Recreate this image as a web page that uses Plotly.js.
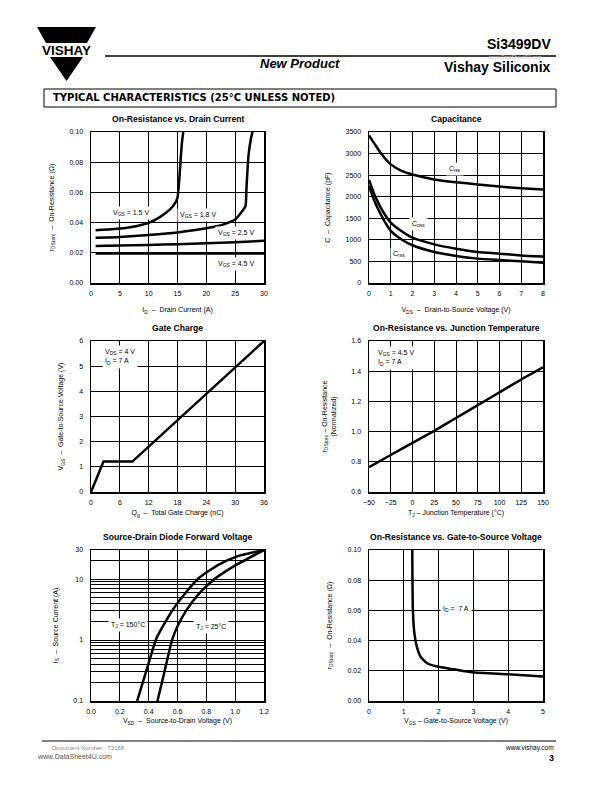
<!DOCTYPE html>
<html><head><meta charset="utf-8">
<script src="https://cdn.plot.ly/plotly-3.0.1.min.js"></script>
<style>html,body{margin:0;padding:0;background:#fff}#chart{width:612px;height:792px}</style>
</head><body><div id="chart"></div>
<script>
// ---------- DATA ----------
// 1: On-Resistance vs. Drain Current
const vgs15_id = [0.8, 2, 4, 6, 8, 10, 12, 13.7, 14.6, 15, 15.3, 15.55, 15.8, 16];
const vgs15_r  = [0.035, 0.0352, 0.0357, 0.0365, 0.0378, 0.0398, 0.0438, 0.0487, 0.053, 0.0565, 0.068, 0.082, 0.094, 0.100];
const vgs18_id = [0.8, 5, 10, 15, 20, 23, 25, 26.2, 26.8, 26.95, 27.3, 27.7, 28];
const vgs18_r  = [0.030, 0.0305, 0.0318, 0.0335, 0.0362, 0.0388, 0.042, 0.0475, 0.051, 0.062, 0.084, 0.095, 0.100];
const vgs25_id = [0.8, 5, 10, 15, 20, 25, 30];
const vgs25_r  = [0.0245, 0.0248, 0.0252, 0.0257, 0.0263, 0.027, 0.028];
const vgs45_id = [0.8, 10, 20, 30];
const vgs45_r  = [0.0195, 0.0195, 0.0195, 0.0195];
// 2: Capacitance
const cap_vds = [0, 0.25, 0.5, 0.75, 1, 1.5, 2, 3, 4, 5, 6, 7, 8];
const ciss = [3420, 3230, 3040, 2880, 2750, 2600, 2515, 2400, 2335, 2285, 2235, 2195, 2165];
const coss = [2390, 2050, 1785, 1570, 1400, 1200, 1050, 895, 795, 720, 680, 640, 615];
const crss = [2250, 1900, 1630, 1400, 1210, 1010, 875, 720, 628, 565, 532, 502, 472];
// 3: Gate Charge
const qg  = [0, 2.6, 8.6, 36];
const vgs_qg = [0, 1.21, 1.21, 6];
// 4: On-Resistance vs. Junction Temperature
const tj = [-50, -25, 0, 25, 50, 75, 100, 125, 150];
const rnorm = [0.765, 0.845, 0.925, 1.005, 1.09, 1.175, 1.26, 1.345, 1.425];
// 5: Source-Drain Diode Forward Voltage
const vsd_150 = [0.32, 0.385, 0.454, 0.523, 0.581, 0.662, 0.754, 0.88, 1.019, 1.2];
const is_150  = [0.1, 0.32, 1.07, 2.13, 3.5, 6.2, 10.7, 17, 23.8, 30];
const vsd_25  = [0.461, 0.512, 0.562, 0.604, 0.662, 0.742, 0.846, 0.984, 1.2];
const is_25   = [0.1, 0.32, 1.0, 1.76, 3.1, 5.5, 9.6, 15.9, 30];
const is_tickvals = [0.1, 1, 10, 30];
const is_ticktext = ['0.1', '1', '10', '30'];
const is_minorvals = [0.2,0.3,0.4,0.5,0.6,0.7,0.8,0.9,2,3,4,5,6,7,8,9,20];
// 6: On-Resistance vs. Gate-to-Source Voltage
const vgs_r = [1.243, 1.262, 1.31, 1.386, 1.48, 1.67, 1.96, 2.44, 2.96, 3.97, 5];
const rds_vgs = [0.100, 0.0593, 0.0438, 0.035, 0.0294, 0.025, 0.0228, 0.021, 0.019, 0.0177, 0.0163];

// ---------- LAYOUT HELPERS ----------
const W = 612, H = 792;
const fx = p => p / W;
const fy = p => 1 - p / H;
const TF = {family: 'Liberation Sans, Arial, sans-serif', size: 7, color: '#000'};
const TITLEF = {family: 'Liberation Sans Narrow, Liberation Sans, Arial, sans-serif', size: 8.6, color: '#000'};

function xax(l, r, range, dtick, title, standoff, extra) {
  return Object.assign({
    domain: [fx(l), fx(r)], range: range, dtick: dtick, tick0: range[0],
    showgrid: true, gridcolor: '#000', gridwidth: 1,
    showline: true, mirror: true, linecolor: '#000', linewidth: 1.5,
    zeroline: false, ticks: '', ticklabelstandoff: 3, tickfont: TF,
    title: {text: title, font: TF, standoff: standoff}, fixedrange: true
  }, extra || {});
}
function yax(b, t, range, dtick, title, extra) {
  return Object.assign({
    domain: [fy(b), fy(t)], range: range, dtick: dtick, tick0: range[0],
    showgrid: true, gridcolor: '#000', gridwidth: 1,
    showline: true, mirror: true, linecolor: '#000', linewidth: 1.5,
    zeroline: false, ticks: '', ticklabelstandoff: 5, tickfont: TF,
    title: {text: title, font: TF, standoff: 14}, fixedrange: true
  }, extra || {});
}
const LN = {color: '#000', width: 2.5, shape: 'spline', smoothing: 0.5};
function tr(x, y, xa, ya, line) {
  return {x: x, y: y, xaxis: xa, yaxis: ya, mode: 'lines', line: line || LN, hoverinfo: 'skip', showlegend: false};
}

const data = [
  tr(vgs15_id, vgs15_r, 'x', 'y'),
  tr(vgs18_id, vgs18_r, 'x', 'y'),
  tr(vgs25_id, vgs25_r, 'x', 'y'),
  tr(vgs45_id, vgs45_r, 'x', 'y'),
  tr(cap_vds, ciss, 'x2', 'y2'),
  tr(cap_vds, coss, 'x2', 'y2'),
  tr(cap_vds, crss, 'x2', 'y2'),
  tr(qg, vgs_qg, 'x3', 'y3', {color: '#000', width: 2.5}),
  tr(tj, rnorm, 'x4', 'y4'),
  tr(vsd_150, is_150, 'x5', 'y5'),
  tr(vsd_25, is_25, 'x5', 'y5'),
  tr(vgs_r, rds_vgs, 'x6', 'y6')
];

const L = [91, 264], R = [369, 543];
const R1 = [283, 132], R2 = [492, 341], R3 = [701, 550];

function inAnn(xr, yr, x, y, text, xanchor) {
  return {xref: xr, yref: yr, x: x, y: y, text: text, showarrow: false, font: TF,
          bgcolor: '#fff', xanchor: xanchor || 'center', yanchor: 'middle', align: 'left', borderpad: 2};
}
function pAnn(x, y, text, font, xanchor, extra) {
  return Object.assign({xref: 'paper', yref: 'paper', x: fx(x), y: fy(y), text: text, showarrow: false,
          font: font, xanchor: xanchor || 'center', yanchor: 'middle'}, extra || {});
}

const annotations = [
  // subplot titles
  pAnn(177.5, 119, '<b>On-Resistance vs. Drain Current</b>', TITLEF),
  pAnn(456, 119, '<b>Capacitance</b>', TITLEF),
  pAnn(177.5, 328, '<b>Gate Charge</b>', TITLEF),
  pAnn(456, 328, '<b>On-Resistance vs. Junction Temperature</b>', TITLEF),
  pAnn(177.5, 537, '<b>Source-Drain Diode Forward Voltage</b>', TITLEF),
  pAnn(456, 537, '<b>On-Resistance vs. Gate-to-Source Voltage</b>', TITLEF),
  // in-plot labels
  inAnn('x', 'y', 7.0, 0.0465, 'V<sub>GS</sub> = 1.5 V'),
  inAnn('x', 'y', 18.6, 0.0447, 'V<sub>GS</sub> = 1.8 V'),
  inAnn('x', 'y', 25.1, 0.0332, 'V<sub>GS</sub> = 2.5 V'),
  inAnn('x', 'y', 25.1, 0.0128, 'V<sub>GS</sub> = 4.5 V'),
  inAnn('x2', 'y2', 3.97, 2650, 'C<sub>iss</sub>'),
  inAnn('x2', 'y2', 2.28, 1360, 'C<sub>oss</sub>'),
  inAnn('x2', 'y2', 1.39, 665, 'C<sub>rss</sub>'),
  inAnn('x3', 'y3', 2.2, 5.38, 'V<sub>DS</sub> = 4 V<br>I<sub>D</sub> = 7 A', 'left'),
  inAnn('x4', 'y4', -43, 1.49, 'V<sub>GS</sub> = 4.5 V<br>I<sub>D</sub> = 7 A', 'left'),
  inAnn('x5', 'y5', 0.255, 0.25, 'T<sub>J</sub> = 150°C'),
  inAnn('x5', 'y5', 0.835, 0.22, 'T<sub>J</sub> = 25°C'),
  inAnn('x6', 'y6', 2.49, 0.0608, 'I<sub>D</sub> =  7 A'),
  // header
  pAnn(66.5, 50, '<b>VISHAY</b>', {family: 'Liberation Sans, Arial, sans-serif', size: 13.5, color: '#000'}),
  pAnn(553, 44, '<b>Si3499DV</b>', {family: 'Liberation Sans, Arial, sans-serif', size: 14, color: '#000'}, 'right'),
  pAnn(300, 64, '<b><i>New Product</i></b>', {family: 'Liberation Sans Narrow, Liberation Sans, Arial, sans-serif', size: 13, color: '#000'}),
  pAnn(553, 67, '<b>Vishay Siliconix</b>', {family: 'Liberation Sans Narrow, Liberation Sans, Arial, sans-serif', size: 14, color: '#000'}, 'right'),
  pAnn(515, 57.5, 'www.DataSheet4U.com', {family: 'Liberation Sans, Arial, sans-serif', size: 5, color: '#d0d0d0'}),
  pAnn(51, 98, '<b>TYPICAL CHARACTERISTICS (25°C UNLESS NOTED)</b>', {family: 'DejaVu Sans, sans-serif', size: 10, color: '#000'}, 'left'),
  // footer
  pAnn(50, 748, 'Document Number:  73188', {family: 'Liberation Sans, Arial, sans-serif', size: 6, color: '#8a8a8a'}, 'left'),
  pAnn(35, 756, 'www.DataSheet4U.com', {family: 'Liberation Sans, Arial, sans-serif', size: 7, color: '#555'}, 'left'),
  pAnn(556, 748, 'www.vishay.com', {family: 'Liberation Sans, Arial, sans-serif', size: 6.5, color: '#000'}, 'right'),
  pAnn(556, 758, '<b>3</b>', {family: 'Liberation Sans, Arial, sans-serif', size: 9, color: '#000'}, 'right')
];

function path(pts) {
  return 'M ' + pts.map(p => fx(p[0]) + ',' + fy(p[1])).join(' L ') + ' Z';
}
const shapes = [
  {type: 'path', xref: 'paper', yref: 'paper', path: path([[37, 27], [96, 27], [87, 43], [46, 43]]), fillcolor: '#000', line: {width: 0}},
  {type: 'path', xref: 'paper', yref: 'paper', path: path([[50, 57], [83, 57], [66.5, 81]]), fillcolor: '#000', line: {width: 0}},
  {type: 'line', xref: 'paper', yref: 'paper', x0: fx(105), x1: fx(556), y0: fy(56), y1: fy(56), line: {color: '#000', width: 1.5}},
  {type: 'rect', xref: 'paper', yref: 'paper', x0: fx(44), x1: fx(556), y0: fy(89), y1: fy(107), line: {color: '#000', width: 1}},
  {type: 'line', xref: 'paper', yref: 'paper', x0: fx(42), x1: fx(556), y0: fy(741), y1: fy(741), line: {color: '#000', width: 1}}
];

const layout = {
  width: W, height: H, margin: {l: 0, r: 0, t: 0, b: 0},
  paper_bgcolor: '#fff', plot_bgcolor: '#fff', showlegend: false,
  font: TF,
  xaxis:  xax(L[0], L[1], [0, 30], 5, 'I<sub>D</sub>  –  Drain Current (A)', 11, {anchor: 'y'}),
  yaxis:  yax(R1[0], R1[1], [0, 0.1], 0.02, 'r<sub>DS(on)</sub>  –  On-Resistance (Ω)', {anchor: 'x', tickformat: '.2f'}),
  xaxis2: xax(R[0], R[1], [0, 8], 1, 'V<sub>DS</sub>  –  Drain-to-Source Voltage (V)', 11, {anchor: 'y2'}),
  yaxis2: yax(R1[0], R1[1], [0, 3500], 500, 'C  –  Capacitance (pF)', {anchor: 'x2'}),
  xaxis3: xax(L[0], L[1], [0, 36], 6, 'Q<sub>g</sub>  –  Total Gate Charge (nC)', 5, {anchor: 'y3'}),
  yaxis3: yax(R2[0], R2[1], [0, 6], 1, 'V<sub>GS</sub>  –  Gate-to-Source Voltage (V)', {anchor: 'x3'}),
  xaxis4: xax(R[0], R[1], [-50, 150], 25, 'T<sub>J</sub> – Junction Temperature (°C)', 5, {anchor: 'y4'}),
  yaxis4: yax(R2[0], R2[1], [0.6, 1.6], 0.2, 'r<sub>DS(on)</sub> – On-Resistance<br>(Normalized)', {anchor: 'x4', tickformat: '.1f'}),
  xaxis5: xax(L[0], L[1], [0, 1.2], 0.2, 'V<sub>SD</sub>  –  Source-to-Drain Voltage (V)', 4, {anchor: 'y5', tickformat: '.1f'}),
  yaxis5: yax(R3[0], R3[1], [-1, Math.log10(30)], null, 'I<sub>S</sub>  –  Source Current (A)',
              {anchor: 'x5', type: 'log', tickmode: 'array', tickvals: is_tickvals, ticktext: is_ticktext,
               minor: {tickmode: 'array', tickvals: is_minorvals, showgrid: true, gridcolor: '#000', gridwidth: 1, ticks: ''}}),
  xaxis6: xax(R[0], R[1], [0, 5], 1, 'V<sub>GS</sub> – Gate-to-Source Voltage (V)', 4, {anchor: 'y6'}),
  yaxis6: yax(R3[0], R3[1], [0, 0.1], 0.02, 'r<sub>DS(on)</sub>  –  On-Resistance (Ω)', {anchor: 'x6', tickformat: '.2f'}),
  annotations: annotations,
  shapes: shapes
};
delete layout.yaxis5.dtick; delete layout.yaxis5.tick0;

Plotly.newPlot('chart', data, layout, {staticPlot: true, displayModeBar: false});
</script>
</body></html>
